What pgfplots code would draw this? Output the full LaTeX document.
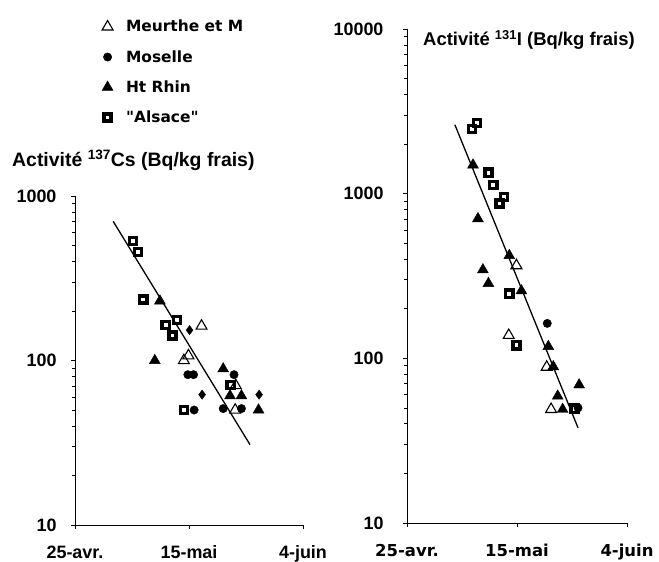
\documentclass[border=0pt]{standalone}
\usepackage{fontspec}
\setmainfont{Liberation Sans}
\newfontfamily\dejavu{DejaVu Sans}
\usepackage{pgfplots}
\pgfplotsset{compat=1.18}

\tikzset{
  mkopen/.style={only marks, mark=triangle, mark size=6.3bp, mark options={line width=1.1bp, black, fill=white}},
  mkcirc/.style={only marks, mark=*, mark size=4.2bp, mark options={black, fill=black}},
  mkfill/.style={only marks, mark=triangle*, mark size=6.3bp, mark options={black, fill=black}},
  mksq/.style={only marks, mark=square, mark size=3.6bp, mark options={line width=3.4bp, black}},
  mkdia/.style={only marks, mark=diamond*, mark size=4.6bp, mark options={black, fill=black}},
  regline/.style={black, line width=1.3bp},
}

\begin{document}
\begin{tikzpicture}
\useasboundingbox (0,0) rectangle (659bp,562bp);

% 137Cs
\begin{axis}[
  ymode=log,
  scale only axis, anchor=south west, clip=false,
  at={(75bp,37bp)}, width=228bp, height=329bp,
  axis lines=left, axis line style={-, line width=0.8bp},
  xmin=0, xmax=40, xtick={0,20,40},
  xticklabels={25-avr.,15-mai,4-juin},
  ymin=10, ymax=1000, ytick={10,100,1000}, yticklabels={10,100,1000},
  tick align=outside, major tick length=4bp,
  tick style={line width=0.8bp, black},
  tick label style={font=\fontsize{18}{18}\selectfont\bfseries},
  yticklabel style={anchor=east, xshift=-11bp},
  xticklabel style={anchor=base, yshift=-30bp},
  legend cell align=left,
  legend style={at={(0.105,1.547)}, anchor=north west, draw=none, fill=none,
    font=\dejavu\bfseries\fontsize{15.5}{15.5}\selectfont,
    row sep=13bp,
    /tikz/every odd column/.append style={column sep=11bp}},
]
\addplot[mkopen] coordinates {(22.2,162) (19.1,100) (19.9,107) (28.2,70.5) (28.1,50)};
\addlegendentry{Meurthe et M}
\addplot[mkcirc] coordinates {(19.8,82) (20.8,82) (27.9,82) (20.9,50) (26,51) (29.2,51)};
\addlegendentry{Moselle}
\addplot[mkfill] coordinates {(14.9,230) (14.0,100) (26.0,89) (27.2,61) (29.2,61) (32.2,50)};
\addlegendentry{Ht Rhin}
\addplot[mksq] coordinates {(10.2,533) (11.05,457) (12.0,235) (15.9,164) (17.9,176) (17.1,142) (27.3,71) (19.1,50)};
\addlegendentry{"Alsace"}
\addplot[mkdia, forget plot] coordinates {(20.1,153) (22.3,62) (32.3,62)};
\addplot[regline, forget plot] coordinates {(6.7,701) (30.7,30.8)};
\end{axis}

% 131I
\begin{axis}[
  ymode=log,
  scale only axis, anchor=south west, clip=false,
  at={(407bp,39bp)}, width=220bp, height=494bp,
  axis lines=left, axis line style={-, line width=0.8bp},
  xmin=0, xmax=40, xtick={0,20,40},
  xticklabels={25-avr.,15-mai,4-juin},
  ymin=10, ymax=10000, ytick={10,100,1000,10000}, yticklabels={10,100,1000,10000},
  tick align=outside, major tick length=4bp,
  tick style={line width=0.8bp, black},
  tick label style={font=\fontsize{18}{18}\selectfont\bfseries},
  yticklabel style={anchor=east, xshift=-16bp},
  xticklabel style={anchor=base, yshift=-30bp, font=\dejavu\bfseries\fontsize{16.5}{16.5}\selectfont},
]
\addplot[mkopen] coordinates {(19.9,366) (18.5,138) (25.4,88.5) (26.2,49)};
\addplot[mkcirc] coordinates {(25.5,163) (31.1,50)};
\addplot[mkfill] coordinates {(12.0,1494) (12.9,705) (18.6,421) (13.8,345) (14.8,285) (20.8,257) (25.7,118) (26.6,89) (31.3,69) (27.4,59) (28.3,49)};
\addplot[mksq] coordinates {(11.8,2473) (12.7,2686) (14.8,1341) (15.7,1127) (17.6,955) (16.8,871) (18.6,247) (19.9,120) (30.5,49.5)};
\addplot[regline] coordinates {(8.7,2624) (31.1,37.8)};
\end{axis}

\node[anchor=base west, inner sep=0pt, font=\fontsize{19.5}{19.5}\selectfont\bfseries]
  at (12bp,395bp) {Activité \textsuperscript{137}Cs (Bq/kg frais)};
\node[anchor=base west, inner sep=0pt, font=\fontsize{18.5}{18.5}\selectfont\bfseries]
  at (423bp,516bp) {Activité \textsuperscript{131}I (Bq/kg frais)};
\end{tikzpicture}
\end{document}
